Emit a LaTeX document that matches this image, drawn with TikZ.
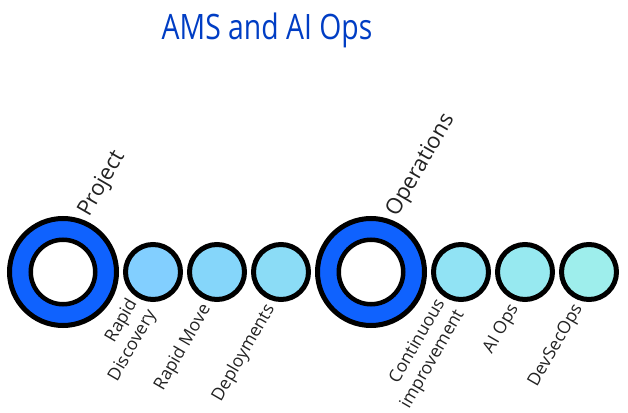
\documentclass[tikz,border=0pt]{standalone}
\usepackage{fontspec}
\setmainfont{Open Sans}
\newfontfamily\titlefont[FakeStretch=0.81]{Open Sans}
\usepackage{tikz}
\usepackage{color}
\definecolor{ringblue}{HTML}{0F62FE}
\definecolor{titleblue}{HTML}{003DC4}
\definecolor{labelgray}{HTML}{222222}
\definecolor{stageA}{HTML}{82CFFF}
\definecolor{stageB}{HTML}{85D6FA}
\definecolor{stageC}{HTML}{8BDCF6}
\definecolor{stageD}{HTML}{91E3F4}
\definecolor{stageE}{HTML}{97E9F0}
\definecolor{stageF}{HTML}{9EEEEC}

\begin{document}
\begin{tikzpicture}[x=1pt, y=1pt,
	ring/.style={circle, draw=black, line width=5pt, fill=ringblue, minimum size=107pt, inner sep=0pt},
	hole/.style={circle, draw=black, line width=4.5pt, fill=white, minimum size=64.5pt, inner sep=0pt},
	stage/.style={circle, draw=black, line width=5pt, minimum size=55pt, inner sep=0pt},
	phase label/.style={rotate=60, anchor=base west, inner sep=0pt, text=labelgray, font=\fontsize{22}{26}\selectfont},
	stage label/.style={rotate=60, anchor=east, align=right, inner sep=0pt, text=labelgray, font=\fontsize{17.5}{22}\selectfont}]
		\useasboundingbox (0,0) rectangle (628,412);
		\node[font=\titlefont\fontsize{35}{40}\selectfont, text=titleblue, anchor=base] (title) at (267,372) {AMS and AI Ops};
		\node[ring] (proj) at (63,140) {};
		\node[hole] (projhole) at (proj) {};
		\node[ring] (ops) at (371,140) {};
		\node[hole] (opshole) at (ops) {};
		\foreach \n/\x/\c in {s1/153/stageA, s2/217/stageB, s3/281/stageC, s4/461/stageD, s5/525/stageE, s6/589/stageF}{
		  \node[stage, fill=\c] (\n) at (\x,140) {};
		}
		\node[phase label] (projlabel) at ([xshift=26pt, yshift=-2pt]proj.north) {Project};
		\node[phase label] (opslabel) at ([xshift=26pt, yshift=-2pt]ops.north) {Operations};
		\node[stage label] (l1) at ([xshift=-10pt, yshift=-4pt]s1.south) {Rapid\\Discovery};
		\node[stage label] (l2) at ([xshift=-10pt, yshift=-4pt]s2.south) {Rapid Move};
		\node[stage label] (l3) at ([xshift=-10pt, yshift=-4pt]s3.south) {Deployments};
		\node[stage label] (l4) at ([xshift=-10pt, yshift=-4pt]s4.south) {Continuous\\improvement};
		\node[stage label] (l5) at ([xshift=-10pt, yshift=-4pt]s5.south) {AI Ops};
		\node[stage label] (l6) at ([xshift=-10pt, yshift=-4pt]s6.south) {DevSecOps};
\end{tikzpicture}
\end{document}
